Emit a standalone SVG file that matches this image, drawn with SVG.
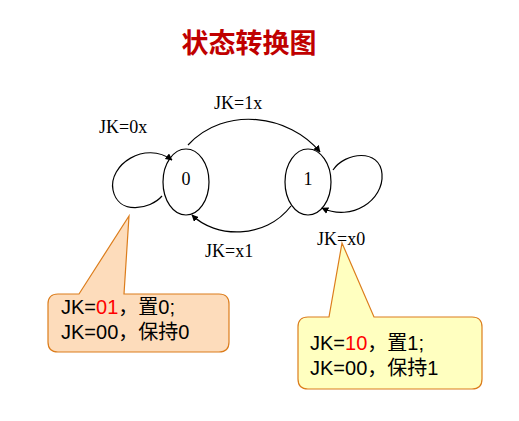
<svg xmlns="http://www.w3.org/2000/svg" width="519" height="421" viewBox="0 0 519 421">
<style>
.node{fill:none;stroke:#000;stroke-width:1.2}
.edge{fill:none;stroke:#000;stroke-width:1.2}
.nl{font-family:"Liberation Serif",serif;font-size:18px;fill:#000;text-anchor:middle}
.el{font-family:"Liberation Serif",serif;font-size:18px;fill:#000}
.ct{font-family:"Liberation Sans","Noto Sans CJK SC",sans-serif;font-size:20px;fill:#000}
.red{fill:#ff0000}
.call{stroke:#dc7d1c;stroke-width:1.2}
</style>
<defs>
<marker id="arr" viewBox="0 0 10 10" refX="9" refY="5" markerWidth="7" markerHeight="7" orient="auto" markerUnits="userSpaceOnUse">
<path d="M0,0 L10,5 L0,10 Z" fill="#000"/>
</marker>
</defs>
<rect width="519" height="421" fill="#fff"/>
<text x="249" y="53" text-anchor="middle" font-family="'Noto Sans CJK SC',sans-serif" font-size="27" font-weight="bold" fill="#c00000">状态转换图</text>
<g id="connectors">
<path class="edge" d="M188,145 C225,105 290,115 320,152" marker-end="url(#arr)"/>
<path class="edge" d="M291,206 C265,240 215,238 192,215" marker-end="url(#arr)"/>
<path class="edge" d="M162,196 C150,210 118,215 113,190 C108,165 145,140 172,160" marker-end="url(#arr)"/>
<path class="edge" d="M333,170 C345,152 380,148 382,174 C384,200 352,222 322,208" marker-end="url(#arr)"/>
<text class="el" x="214" y="109">JK=1x</text>
<text class="el" x="99" y="133">JK=0x</text>
<text class="el" x="205" y="257">JK=x1</text>
<text class="el" x="317" y="245">JK=x0</text>
</g>
<g id="node0">
<ellipse class="node" cx="186" cy="182" rx="23" ry="33"/>
<text class="nl" x="186" y="185">0</text>
</g>
<g id="node1">
<ellipse class="node" cx="308" cy="182" rx="23" ry="33"/>
<text class="nl" x="308" y="185">1</text>
</g>
<g id="callout0">
<path class="call" fill="#fddcbb" d="M58,294 L79,294 L129,216 L124,294 L219,294 Q229,294 229,304 L229,342 Q229,352 219,352 L58,352 Q48,352 48,342 L48,304 Q48,294 58,294 Z"/>
<text class="ct" x="61" y="314">JK=<tspan class="red">01</tspan>，置0;</text>
<text class="ct" x="61" y="339">JK=00，保持0</text>
</g>
<g id="callout1">
<path class="call" fill="#ffffc0" d="M308,317 L329,317 L342,243 L374,317 L472,317 Q482,317 482,327 L482,379 Q482,389 472,389 L308,389 Q298,389 298,379 L298,327 Q298,317 308,317 Z"/>
<text class="ct" x="310" y="350">JK=<tspan class="red">10</tspan>，置1;</text>
<text class="ct" x="310" y="375">JK=00，保持1</text>
</g>
</svg>
